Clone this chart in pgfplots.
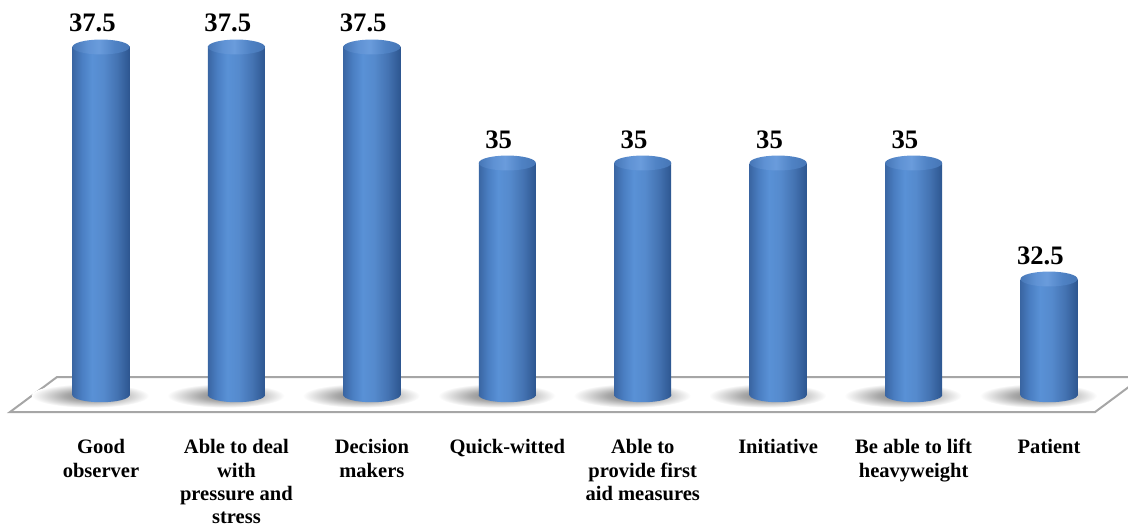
\documentclass[border=0pt]{standalone}
\usepackage{pgfplots}
\pgfplotsset{compat=1.18}
\usepackage{fontspec}
\setmainfont{Liberation Serif}

% cylinder colours
\definecolor{cA}{HTML}{3A66A3}
\definecolor{cB}{HTML}{4A7EC2}
\definecolor{cC}{HTML}{5991D6}
\definecolor{cD}{HTML}{558ACD}
\definecolor{cE}{HTML}{4473B2}
\definecolor{cF}{HTML}{2D5690}
\definecolor{tA}{HTML}{4676B6}
\definecolor{tB}{HTML}{5F92D4}
\definecolor{tC}{HTML}{6A9CDC}
\definecolor{tD}{HTML}{4F82C4}
\definecolor{floorline}{HTML}{A6A6A6}
\definecolor{shadowdark}{HTML}{7A7A7A}
\definecolor{shadowmid}{HTML}{A9A9A9}

\pgfdeclarehorizontalshading{cylbody}{100bp}{%
  color(0bp)=(cA); color(25bp)=(cA); color(33bp)=(cB); color(42bp)=(cC);
  color(52bp)=(cD); color(64bp)=(cE); color(75bp)=(cF); color(100bp)=(cF)}
\pgfdeclarehorizontalshading{cyltop}{100bp}{%
  color(0bp)=(tA); color(25bp)=(tA); color(38bp)=(tB); color(48bp)=(tC);
  color(62bp)=(tD); color(75bp)=(tA); color(100bp)=(tA)}
\pgfdeclareradialshading{floorshadow}{\pgfpointorigin}{%
  color(0bp)=(shadowdark); color(11bp)=(shadowmid); color(25bp)=(white); color(50bp)=(white)}

% marks for the end faces of the cylinders and their shadows
\pgfdeclareplotmark{captop}{%
  \pgfpathellipse{\pgfpointorigin}{\pgfqpoint{21.4pt}{0pt}}{\pgfqpoint{0pt}{5.6pt}}%
  \pgfshadepath{cyltop}{0}%
  \pgfusepath{}%
}
\pgfdeclareplotmark{capbottom}{%
  \pgfpathellipse{\pgfpointorigin}{\pgfqpoint{21.4pt}{0pt}}{\pgfqpoint{0pt}{5.4pt}}%
  \pgfshadepath{cylbody}{0}%
  \pgfusepath{}%
}
\pgfdeclareplotmark{groundshadow}{%
  \pgfpathellipse{\pgfqpoint{-8pt}{-0.5pt}}{\pgfqpoint{44pt}{0pt}}{\pgfqpoint{0pt}{9pt}}%
  \pgfshadepath{floorshadow}{0}%
  \pgfusepath{}%
}

\pgfplotsset{
  cylinder/.style={ybar, bar width=42.75pt, draw=none, shade, shading=cylbody,
    point meta=rawy,
    nodes near coords={\pgfmathprintnumber{\pgfplotspointmeta}},
    every node near coord/.append style={anchor=base, yshift=11.25pt, xshift=-6.5pt,
      font=\fontsize{20}{24}\selectfont\bfseries, text=black}},
}

\begin{document}
\begin{tikzpicture}
\begin{axis}[
  scale only axis,
  x=101.57pt, y=34.8pt,
  xmin=-0.7458, xmax=7.5830,
  ymin=-2.888, ymax=8.513,
  y filter/.expression={y-30},
  clip marker paths=true,
  axis line style={draw=none},
  tick style={draw=none},
  ytick=\empty,
  xtick={0,...,7},
  xticklabels={{Good\\observer},{Able to deal\\with\\pressure and\\stress},{Decision\\makers},{Quick-witted},{Able to\\provide first\\aid measures},{Initiative},{Be able to lift\\heavyweight},{Patient}},
  xticklabel style={anchor=north, align=center, inner sep=0pt, yshift=67.5pt,
    font=\fontsize{15.4}{17.6}\selectfont\bfseries},
  /pgf/number format/assume math mode=true,
]
% floor
\draw[floorline, line width=1.5pt, fill=white]
  (axis cs:-0.672,-0.366) -- (axis cs:-0.325,0.388) -- (axis cs:7.687,0.388)
  -- (axis cs:7.340,-0.366) -- cycle;
% shadows on the floor
\addplot[only marks, mark=groundshadow] coordinates {(0,30) (1,30) (2,30) (3,30) (4,30) (5,30) (6,30) (7,30)};
% rounded bottoms
\addplot[only marks, mark=capbottom] coordinates {(0,30) (1,30) (2,30) (3,30) (4,30) (5,30) (6,30) (7,30)};
% cylinder bodies, one path each so that each gets its own shading
\addplot[cylinder] coordinates {(0,37.5)};
\addplot[cylinder] coordinates {(1,37.5)};
\addplot[cylinder] coordinates {(2,37.5)};
\addplot[cylinder] coordinates {(3,35)};
\addplot[cylinder] coordinates {(4,35)};
\addplot[cylinder] coordinates {(5,35)};
\addplot[cylinder] coordinates {(6,35)};
\addplot[cylinder] coordinates {(7,32.5)};
% top faces
\addplot[only marks, mark=captop] coordinates {(0,37.5) (1,37.5) (2,37.5) (3,35) (4,35) (5,35) (6,35) (7,32.5)};
\end{axis}
\end{tikzpicture}
\end{document}
